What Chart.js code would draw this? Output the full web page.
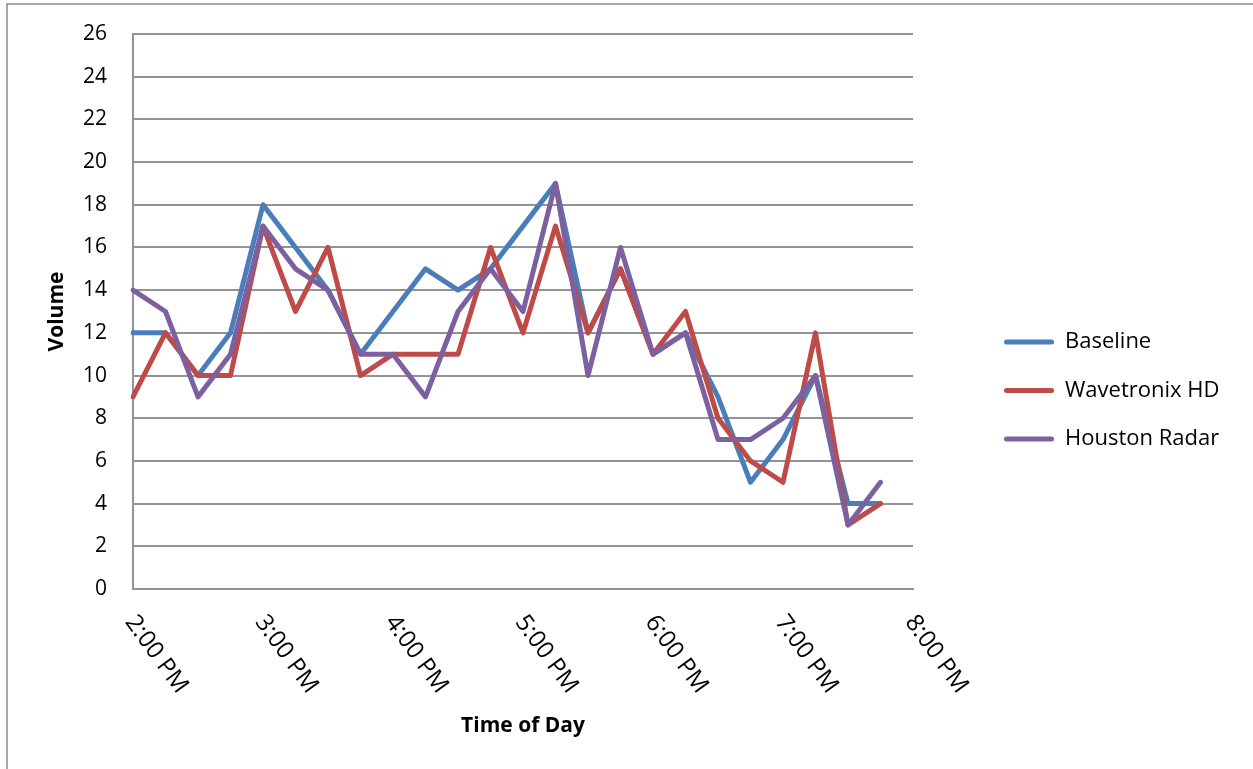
<!DOCTYPE html>
<html>
<head>
<meta charset="utf-8">
<title>Volume by Time of Day</title>
<script src="https://cdn.jsdelivr.net/npm/chart.js@4.4.1/dist/chart.umd.min.js"></script>
<style>
  html, body { margin: 0; padding: 0; background: #fff; }
  canvas { display: block; }
</style>
</head>
<body>
<canvas id="grafico" width="1253" height="769"></canvas>
<script>
// quarter-hour categories, 2:00 PM .. 8:00 PM
const horas = [
  '2:00 PM', '2:15 PM', '2:30 PM', '2:45 PM',
  '3:00 PM', '3:15 PM', '3:30 PM', '3:45 PM',
  '4:00 PM', '4:15 PM', '4:30 PM', '4:45 PM',
  '5:00 PM', '5:15 PM', '5:30 PM', '5:45 PM',
  '6:00 PM', '6:15 PM', '6:30 PM', '6:45 PM',
  '7:00 PM', '7:15 PM', '7:30 PM', '7:45 PM',
  '8:00 PM'
];
const marcasEje = ['2:00 PM', '3:00 PM', '4:00 PM', '5:00 PM', '6:00 PM', '7:00 PM', '8:00 PM'];

const baseline     = [12, 12, 10, 12, 18, 16, 14, 11, 13, 15, 14, 15, 17, 19, 12, 15, 11, 12, 9, 5, 7, 10, 4, 4];
const wavetronix   = [9, 12, 10, 10, 17, 13, 16, 10, 11, 11, 11, 16, 12, 17, 12, 15, 11, 13, 8, 6, 5, 12, 3, 4];
const houstonRadar = [14, 13, 9, 11, 17, 15, 14, 11, 11, 9, 13, 15, 13, 19, 10, 16, 11, 12, 7, 7, 8, 10, 3, 5];

const yMin = 0;
const yMax = 26;
const yPaso = 2;

const fuente = '"Open Sans", "DejaVu Sans", sans-serif';
const gris = '#939393';

// legend geometry, so that the legend lines start at x=1004
const legendFont = 22;
const legendBox = 50;
const legendPad = 26.5;
const medidor = document.createElement('canvas').getContext('2d');
medidor.font = legendFont + 'px ' + fuente;
const anchoTexto = Math.max(...['Baseline', 'Wavetronix HD', 'Houston Radar'].map(t => medidor.measureText(t).width));
const padDerecho = Math.max(0, 1253 - 1004 - 10 - (legendBox + legendFont / 2 + anchoTexto));

const marco = {
  id: 'marco',
  beforeDraw(chart) {
    const ctx = chart.ctx;
    ctx.save();
    ctx.fillStyle = '#fff';
    ctx.fillRect(0, 0, chart.width, chart.height);
    ctx.strokeStyle = '#8a8a8a';
    ctx.lineWidth = 1.5;
    ctx.strokeRect(7, 4, chart.width + 50, chart.height + 50);
    ctx.restore();
  }
};

// rotated hour labels under the x axis
const etiquetasX = {
  id: 'etiquetasX',
  afterDraw(chart) {
    const ctx = chart.ctx;
    const x = chart.scales.x;
    ctx.save();
    ctx.font = '24px ' + fuente;
    ctx.fillStyle = '#000';
    ctx.textAlign = 'left';
    ctx.textBaseline = 'middle';
    horas.forEach((h, i) => {
      if (!marcasEje.includes(h)) return;
      ctx.save();
      ctx.translate(x.getPixelForValue(i) - 3, x.top + 29);
      ctx.rotate(54 * Math.PI / 180);
      ctx.fillText(h, 0, 0);
      ctx.restore();
    });
    ctx.restore();
  }
};

const linea = (label, data, color, order) => ({
  label: label,
  data: data,
  borderColor: color,
  backgroundColor: color,
  borderWidth: 5,
  borderJoinStyle: 'round',
  borderCapStyle: 'round',
  pointRadius: 0,
  tension: 0,
  order: order
});

new Chart(document.getElementById('grafico'), {
  type: 'line',
  data: {
    labels: horas,
    datasets: [
      linea('Baseline', baseline, '#4a7ebb', 3),
      linea('Wavetronix HD', wavetronix, '#be4b48', 2),
      linea('Houston Radar', houstonRadar, '#7d60a0', 1)
    ]
  },
  options: {
    responsive: false,
    animation: false,
    layout: { padding: { top: 34, right: padDerecho, left: 0, bottom: 22 } },
    plugins: {
      tooltip: { enabled: false },
      legend: {
        position: 'right',
        maxWidth: 400,
        labels: {
          color: '#000',
          font: { family: fuente, size: legendFont },
          boxWidth: legendBox,
          boxHeight: 5,
          padding: legendPad,
          useBorderRadius: true,
          sort: (a, b) => a.datasetIndex - b.datasetIndex,
          generateLabels(chart) {
            const items = Chart.defaults.plugins.legend.labels.generateLabels(chart);
            items.forEach(it => {
              it.fillStyle = it.strokeStyle;
              it.lineWidth = 0;
              it.borderRadius = 2.5;
            });
            return items;
          }
        }
      }
    },
    scales: {
      x: {
        type: 'category',
        offset: false,
        grid: { display: false },
        border: { display: true, color: gris, width: 2 },
        ticks: { display: false },
        title: {
          display: true,
          text: 'Time of Day',
          color: '#000',
          font: { family: fuente, size: 21, weight: 'bold' },
          padding: { top: 0, bottom: 8 }
        },
        afterFit: s => { s.height = 158; }
      },
      y: {
        min: yMin,
        max: yMax,
        grid: { color: gris, lineWidth: 2, drawTicks: false },
        border: { display: true, color: gris, width: 2 },
        ticks: {
          stepSize: yPaso,
          padding: 26,
          color: '#000',
          font: { family: fuente, size: 21 }
        },
        title: {
          display: true,
          text: 'Volume',
          color: '#000',
          font: { family: fuente, size: 21, weight: 'bold' },
          padding: { top: 44, bottom: 0 }
        },
        afterFit: s => {
          s.width = 133;
          s.paddingTop = 0;
        }
      },
      hueco: {
        type: 'linear',
        position: 'right',
        display: true,
        grid: { display: false },
        border: { display: false },
        ticks: { display: false },
        afterFit: s => { s.width = 1004 - legendPad - 913; }
      }
    }
  },
  plugins: [marco, etiquetasX]
});
</script>
</body>
</html>
